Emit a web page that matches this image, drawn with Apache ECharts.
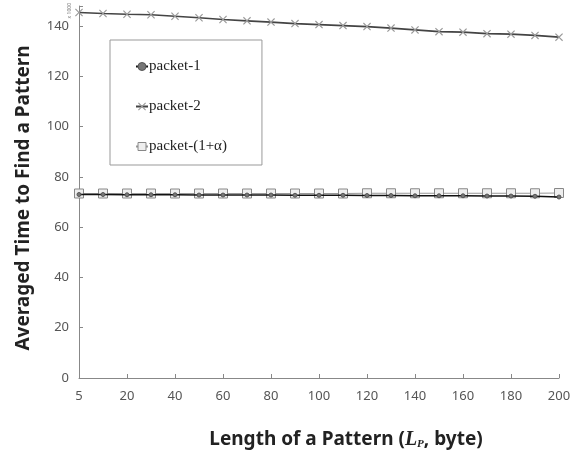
<!DOCTYPE html>
<html>
<head>
<meta charset="utf-8">
<script src="https://cdn.jsdelivr.net/npm/echarts@6/dist/echarts.min.js"></script>
<style>
  html, body { margin: 0; padding: 0; background: #fff; }
  #main { width: 571px; height: 450px; }
</style>
</head>
<body>
<div id="main"></div>
<script>
// 模式长度 (byte)
const lengths = ['5', '10', '20', '30', '40', '50', '60', '70', '80', '90', '100',
  '110', '120', '130', '140', '150', '160', '170', '180', '190', '200'];
// 平均查找时间 (x1000)
const packet1 = [73.0, 73.0, 72.9, 72.9, 72.9, 72.8, 72.8, 72.8, 72.8, 72.7, 72.7,
  72.7, 72.6, 72.6, 72.5, 72.5, 72.5, 72.4, 72.4, 72.3, 72.0];
const packet2 = [145.4, 145.0, 144.7, 144.5, 143.9, 143.3, 142.6, 142.1, 141.6, 141.0, 140.6,
  140.2, 139.8, 139.2, 138.5, 137.8, 137.6, 137.0, 136.8, 136.3, 135.6];
const packet1a = [73.4, 73.4, 73.4, 73.4, 73.4, 73.4, 73.4, 73.4, 73.4, 73.4, 73.4,
  73.4, 73.5, 73.5, 73.5, 73.5, 73.5, 73.5, 73.5, 73.5, 73.6];

const xMark = 'path://M0,1L1,0L5,4L9,0L10,1L6,5L10,9L9,10L5,6L1,10L0,9L4,5Z';

const myChart = echarts.init(document.getElementById('main'));

const option = {
  backgroundColor: '#fff',
  animation: false,
  grid: { left: 79, right: 12, top: 6, bottom: 72, outerBoundsMode: 'none', containLabel: false },
  legend: {
    data: ['packet-1', 'packet-2', 'packet-(1+α)'],
    orient: 'vertical',
    left: 110,
    top: 40,
    padding: [19, 35, 11, 25],
    itemGap: 25,
    itemWidth: 12,
    itemHeight: 10,
    borderColor: '#999',
    borderWidth: 1,
    itemStyle: { borderWidth: 1 },
    textStyle: { fontFamily: 'Liberation Serif', fontSize: 15, color: '#222', padding: [0, 0, 0, -4] }
  },
  xAxis: {
    type: 'category',
    data: lengths,
    boundaryGap: false,
    axisLine: { lineStyle: { color: '#888' } },
    axisTick: { inside: true, length: 4, lineStyle: { color: '#888' } },
    axisLabel: { interval: 1, color: '#555', fontSize: 13, fontFamily: 'Noto Sans', margin: 12 },
    name: '{b|Length of a Pattern (}{i|L}{s|P}{b|, byte)}',
    nameLocation: 'middle',
    nameGap: 52,
    nameTextStyle: {
      padding: [0, 0, 0, 54],
      rich: {
        b: { fontFamily: 'Noto Sans', fontWeight: 'bold', fontSize: 19, color: '#222' },
        i: { fontFamily: 'Liberation Serif', fontStyle: 'italic', fontWeight: 'bold', fontSize: 20, color: '#222' },
        s: { fontFamily: 'Liberation Serif', fontStyle: 'italic', fontWeight: 'bold', fontSize: 11, color: '#222', verticalAlign: 'bottom', padding: [8, 0, 0, 0] }
      }
    }
  },
  yAxis: {
    type: 'value',
    min: 0,
    max: 148,
    interval: 20,
    splitLine: { show: false },
    axisLine: { show: true, lineStyle: { color: '#888' } },
    axisTick: { show: true, inside: true, length: 4, lineStyle: { color: '#888' } },
    axisLabel: {
      color: '#555', fontSize: 13, fontFamily: 'Noto Sans', margin: 10,
      formatter: v => (v % 20 === 0 ? String(v) : '')
    },
    name: 'Averaged Time to Find a Pattern',
    nameLocation: 'middle',
    nameGap: 46,
    nameTextStyle: { fontFamily: 'Noto Sans', fontWeight: 'bold', fontSize: 19, color: '#222', padding: [0, 12, 0, 0] }
  },
  graphic: [{
    type: 'text',
    left: 67,
    top: 3,
    rotation: Math.PI / 2,
    style: { text: 'x 1000', fontSize: 5, fill: '#777', fontFamily: 'Noto Sans' }
  }],
  series: [
    {
      name: 'packet-(1+α)',
      type: 'line',
      data: packet1a,
      symbol: 'rect',
      symbolSize: 9,
      z: 2,
      lineStyle: { color: '#999', width: 1 },
      itemStyle: { color: '#eee', borderColor: '#888', borderWidth: 1 }
    },
    {
      name: 'packet-1',
      type: 'line',
      data: packet1,
      symbol: 'circle',
      symbolSize: 4,
      z: 3,
      lineStyle: { color: '#111', width: 1.6 },
      itemStyle: { color: '#777', borderColor: '#555', borderWidth: 1 }
    },
    {
      name: 'packet-2',
      type: 'line',
      data: packet2,
      symbol: xMark,
      symbolSize: 8,
      z: 3,
      lineStyle: { color: '#444', width: 1.6 },
      itemStyle: { color: '#999' }
    }
  ]
};

myChart.setOption(option);
</script>
</body>
</html>
